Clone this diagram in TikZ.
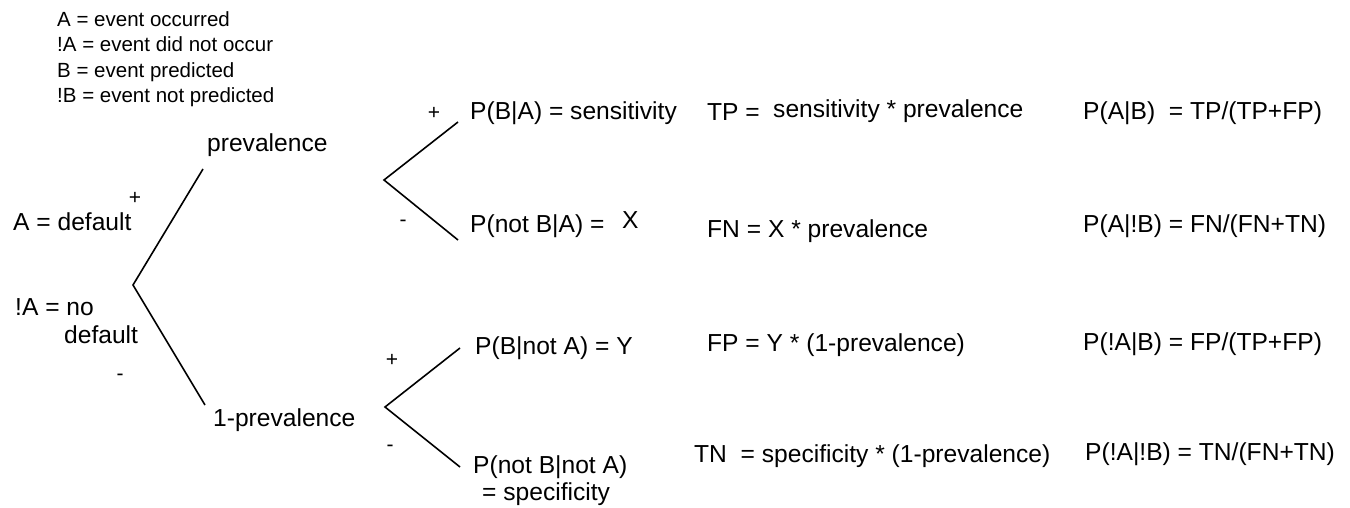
\documentclass[tikz,border=0pt]{standalone}
\usepackage{fontspec}
\setmainfont{Liberation Sans}
\begin{document}
\begin{tikzpicture}[x=1pt,y=-1pt,
  txt/.style={anchor=base west,inner sep=0pt,font=\fontsize{24.6}{28}\selectfont},
  leg/.style={anchor=base west,inner sep=0pt,font=\fontsize{20.5}{23}\selectfont},
  sgn/.style={anchor=center,inner sep=0pt,font=\fontsize{21}{23}\selectfont},
  branch/.style={line width=1.6pt,black}]
\useasboundingbox (0,0) rectangle (1350,508);
% legend
\node[leg] (l1) at (57,27) {A = event occurred};
\node[leg] (l2) at (57,52) {!A = event did not occur};
\node[leg] (l3) at (57,78) {B = event predicted};
\node[leg] (l4) at (57,103) {!B = event not predicted};
% main tree
\coordinate (root) at (133,285);
\coordinate (rootU) at (203,169);
\coordinate (rootL) at (205,405);
\draw[branch] (rootU) -- (root) -- (rootL);
\node[txt] (prev) at (207,152) {prevalence};
\node[txt] (oneprev) at (213,426) {1-prevalence};
\node[sgn] (pA) at (135,198) {+};
\node[sgn] (mA) at (120,377) {-};
\node[txt] (Adef) at (13,230) {A = default};
\node[txt] (nA1) at (15,315) {!A = no};
\node[txt] (nA2) at (64,343) {default};
% upper subtree
\coordinate (uv) at (384,180);
\coordinate (uU) at (458,122);
\coordinate (uL) at (458,240);
\draw[branch] (uU) -- (uv) -- (uL);
\node[sgn] (pU) at (434,113) {+};
\node[sgn] (mU) at (403,223) {-};
\node[txt] (sens) at (470,120) {P(B|A) = sensitivity};
\node[txt] (notBA) at (470,233) {P(not B|A) =};
\node[txt] (X) at (622,229) {X};
% lower subtree
\coordinate (lv) at (385,407);
\coordinate (lU) at (460,348);
\coordinate (lL) at (460,467);
\draw[branch] (lU) -- (lv) -- (lL);
\node[sgn] (pL) at (392,360) {+};
\node[sgn] (mL) at (390,448) {-};
\node[txt] (BnA) at (475,354) {P(B|not A) = Y};
\node[txt] (nBnA) at (473,473) {P(not B|not A)};
\node[txt] (spec) at (482,500) {= specificity};
% products
\node[txt] (TP) at (707,121) {TP =};
\node[txt] (TPv) at (773,118) {sensitivity * prevalence};
\node[txt] (FN) at (707,237) {FN = X * prevalence};
\node[txt] (FP) at (707,351) {FP = Y * (1-prevalence)};
\node[txt] (TN) at (694,462) {TN\ \ = specificity * (1-prevalence)};
% posteriors
\node[txt] (PAB) at (1083,120) {P(A|B)\ \ = TP/(TP+FP)};
\node[txt] (PAnB) at (1083,233) {P(A|!B) = FN/(FN+TN)};
\node[txt] (PnAB) at (1083,350) {P(!A|B) = FP/(TP+FP)};
\node[txt] (PnAnB) at (1085,460) {P(!A|!B) = TN/(FN+TN)};
\end{tikzpicture}
\end{document}
